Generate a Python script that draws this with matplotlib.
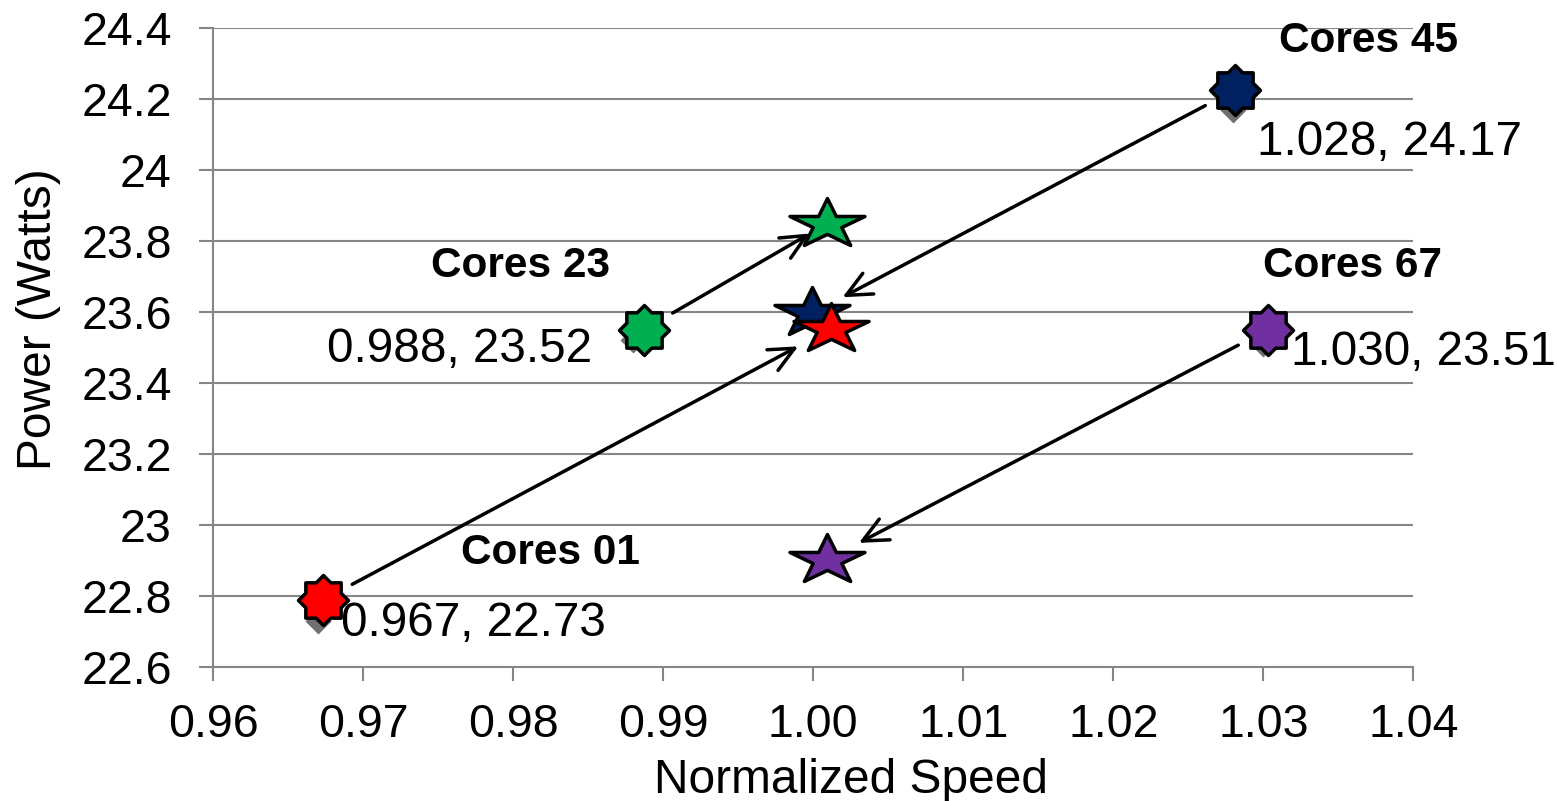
import numpy as np
import matplotlib
matplotlib.use('Agg')
import matplotlib.pyplot as plt
from matplotlib.path import Path
from matplotlib.markers import MarkerStyle

plt.rcParams['font.family'] = ['Liberation Sans', 'DejaVu Sans']

# ---------------- data ----------------
groups = ['Cores 01', 'Cores 23', 'Cores 45', 'Cores 67']
colors = ['#FF0000', '#00B050', '#002060', '#7030A0']
# labelled measurements (grey diamonds)
speed = [0.967, 0.988, 1.028, 1.030]
power = [22.73, 23.52, 24.17, 23.51]
value_labels = ['0.967, 22.73', '0.988, 23.52', '1.028, 24.17', '1.030, 23.51']
# "before" positions (8-point starbursts)
burst_speed = [0.9673, 0.9887, 1.0281, 1.0303]
burst_power = [22.788, 23.550, 24.226, 23.550]
# "after" positions (5-point stars)
star_speed = [1.0012, 1.0009, 0.9999, 1.0009]
star_power = [23.553, 23.849, 23.596, 22.902]

xticks = [0.96, 0.97, 0.98, 0.99, 1.00, 1.01, 1.02, 1.03, 1.04]
xticklabels = ['0.96', '0.97', '0.98', '0.99', '1.00', '1.01', '1.02', '1.03', '1.04']
yticks = [22.6, 22.8, 23.0, 23.2, 23.4, 23.6, 23.8, 24.0, 24.2, 24.4]
yticklabels = ['22.6', '22.8', '23', '23.2', '23.4', '23.6', '23.8', '24', '24.2', '24.4']

# ---------------- styling / layout ----------------
GREY = '#868686'
value_offsets = [(16, -11.3, 'left'), (-29.7, -15.6, 'right'), (17, -32.4, 'left'), (20, -15, 'left')]
group_offsets = [(164, 26), (-88.6, 38), (96, 27.2), (60.8, 37.8)]
shrink_a = [24, 24, 24, 24]
shrink_b = [27, 14, 25, 26]

# custom marker shapes
def burst_path(n=8, inner=0.765):
    verts = []
    for k in range(n):
        a = np.deg2rad(90 + k * 360 / n)
        verts.append((np.cos(a), np.sin(a)))
        b = np.deg2rad(90 + (k + 0.5) * 360 / n)
        verts.append((inner * np.cos(b), inner * np.sin(b)))
    verts.append(verts[0])
    codes = [Path.MOVETO] + [Path.LINETO] * (len(verts) - 2) + [Path.CLOSEPOLY]
    return Path(verts, codes)

def flat_star_path(inner=0.382, yscale=0.658):
    verts = []
    for k in range(5):
        a = np.deg2rad(90 + k * 72)
        verts.append((np.cos(a), yscale * np.sin(a)))
        b = np.deg2rad(90 + 36 + k * 72)
        verts.append((inner * np.cos(b), yscale * inner * np.sin(b)))
    verts.append(verts[0])
    codes = [Path.MOVETO] + [Path.LINETO] * (len(verts) - 2) + [Path.CLOSEPOLY]
    return Path(verts, codes)

burst_marker = MarkerStyle(burst_path(), joinstyle='miter')
star_marker = MarkerStyle(flat_star_path(), joinstyle='miter')

fig = plt.figure(figsize=(15.57, 8.01), dpi=100)
ax = fig.add_axes([213.3 / 1557, 1 - 666.7 / 801, 1200 / 1557, (666.7 - 28.3) / 801])

ax.set_xlim(0.96, 1.04)
ax.set_ylim(22.6, 24.4)
ax.set_xticks(xticks)
ax.set_xticklabels(xticklabels)
ax.set_yticks(yticks)
ax.set_yticklabels(yticklabels)

ax.grid(axis='y', color=GREY, lw=1.5, zorder=0)
ax.set_axisbelow(True)
for s in ['top', 'right']:
    ax.spines[s].set_visible(False)
for s in ['left', 'bottom']:
    ax.spines[s].set_color(GREY)
    ax.spines[s].set_linewidth(1.5)
ax.tick_params(axis='both', direction='out', length=10, width=1.5, color=GREY,
               labelsize=33.5, labelcolor='black')
ax.tick_params(axis='x', pad=16)
ax.tick_params(axis='y', pad=20)

# arrows
for i in range(4):
    ax.annotate('', xy=(star_speed[i], star_power[i]),
                xytext=(burst_speed[i], burst_power[i]),
                arrowprops=dict(arrowstyle='->,head_length=0.9,head_width=0.42',
                                mutation_scale=20, lw=2.5, color='black',
                                shrinkA=shrink_a[i], shrinkB=shrink_b[i]),
                zorder=2)

# grey diamonds (measurements)
ax.plot(speed, power, linestyle='none', marker='D', ms=13, color='#707070',
        mec='none', zorder=2.5)

# starbursts
for i in range(4):
    ax.plot(burst_speed[i], burst_power[i], linestyle='none', marker=burst_marker,
            ms=36, mfc=colors[i], mec='black', mew=2.5, zorder=3)

# stars (red drawn above navy)
for i in [1, 2, 0, 3]:
    ax.plot(star_speed[i], star_power[i], linestyle='none', marker=star_marker,
            ms=54, mfc=colors[i], mec='black', mew=2.5, zorder=3 + i * 0.01 + (0.5 if i == 0 else 0))

# value labels
for i in range(4):
    dx, dy, ha = value_offsets[i]
    ax.annotate(value_labels[i], xy=(speed[i], power[i]), xytext=(dx, dy),
                textcoords='offset points', ha=ha, va='baseline', fontsize=34.3,
                color='black', zorder=5)

# group labels
for i in range(4):
    dx, dy = group_offsets[i]
    ax.annotate(groups[i], xy=(burst_speed[i], burst_power[i]), xytext=(dx, dy),
                textcoords='offset points', ha='center', va='baseline',
                fontsize=30.5, fontweight='bold', color='black', zorder=5)

ax.set_xlabel('Normalized Speed', fontsize=34.5, va='baseline')
ax.xaxis.set_label_coords((851 - 213.3) / 1200, (666.7 - 793) / 638.4)
ax.set_ylabel('Power (Watts)', fontsize=34.5)
ax.yaxis.set_label_coords((61 - 213.3) / 1200, (666.7 - 319) / 638.4)

fig.savefig('out.png', dpi=100)
